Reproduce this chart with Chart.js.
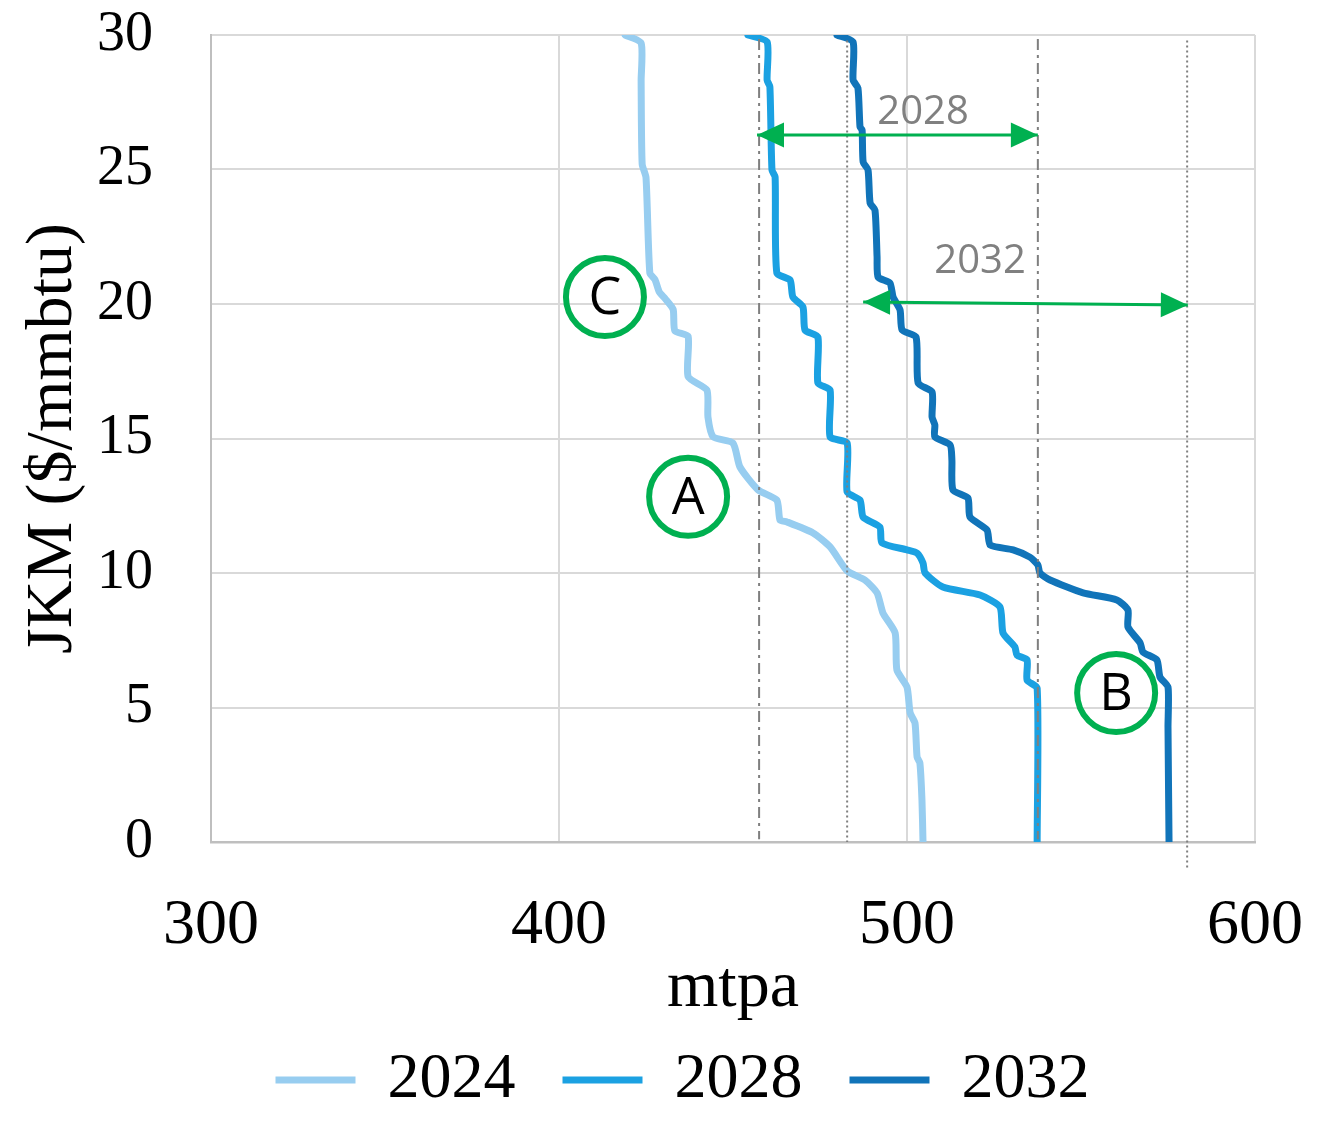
<!DOCTYPE html>
<html><head><meta charset="utf-8">
<script src="https://cdn.jsdelivr.net/npm/chart.js@4/dist/chart.umd.min.js"></script>
<style>html,body{margin:0;padding:0;background:#fff;overflow:hidden}#wrap{width:1321px;height:1128px;position:relative}</style>
</head><body><div id="wrap"><canvas id="c"></canvas></div>
<script>
// ---- data (mtpa, JKM $/mmbtu) ----
const seriesNames = ['2024', '2028', '2032'];
const curve2024 = [[419.0,30.0],[423.6,29.7],[423.6,28.3],[423.9,25.2],[425.0,24.7],[426.1,21.15],[427.6,20.9],[428.8,20.45],[430.5,20.2],[432.8,19.8],[433.3,19.0],[437.1,18.8],[437.1,17.3],[442.5,16.8],[442.8,15.8],[444.3,15.06],[450.0,14.83],[452.0,13.94],[457.2,13.09],[462.6,12.71],[463.5,11.97],[465.5,11.9],[473.0,11.49],[477.9,10.97],[482.8,10.08],[487.9,9.74],[491.4,9.26],[493.1,8.51],[496.6,7.77],[497.1,6.39],[500.0,5.76],[500.9,4.80],[502.3,4.42],[502.9,3.16],[503.7,2.94],[504.3,1.56],[504.6,0]];
const curve2028 = [[454.3,30.0],[459.8,29.74],[459.8,28.33],[460.6,28.07],[461.2,24.98],[462.1,24.72],[462.6,21.15],[466.4,20.89],[467.2,20.26],[470.1,19.89],[470.7,19.03],[474.4,18.77],[474.4,17.06],[477.9,16.80],[477.9,15.06],[482.8,14.83],[482.8,13.01],[486.5,12.71],[487.4,12.08],[492.2,11.71],[492.8,11.12],[500.0,10.86],[502.9,10.74],[504.6,10.37],[505.2,10.0],[510.3,9.48],[521.0,9.18],[526.7,8.74],[527.6,7.77],[531.0,7.25],[531.6,6.95],[534.5,6.77],[534.5,6.02],[537.4,5.72],[537.4,0]];
const curve2032 = [[479.9,30],[484.5,29.74],[484.5,28.33],[485.9,28.03],[486.5,26.58],[487.1,26.47],[487.4,25.28],[488.8,24.98],[489.4,23.75],[490.8,23.49],[491.4,21.75],[491.7,21.0],[495.1,20.78],[496.0,20.26],[498.0,19.78],[498.6,19.03],[502.6,18.77],[503.2,17.06],[507.2,16.73],[507.2,15.80],[508.0,15.50],[508.0,15.06],[512.4,14.76],[512.9,14.20],[513.2,13.09],[517.5,12.79],[518.1,12.08],[523.0,11.60],[523.9,11.04],[530.5,10.86],[535.3,10.59],[537.6,10.30],[538.2,10.0],[541.1,9.74],[550.6,9.26],[560.3,9.0],[563.5,8.62],[563.5,7.99],[567.0,7.40],[567.8,7.06],[571.8,6.77],[572.7,6.13],[575.0,5.76],[575.0,4.28],[575.3,0]];
const xTickValues = [300, 400, 500, 600];
const yTickValues = [0, 5, 10, 15, 20, 25, 30];

// ---- annotations (data units) ----
const refDashDot = [457.5, 537.6];
const refDotted = [482.8, 580.5];
const refDottedLow = [0, -0.97];
const arrowLabels = ['2028', '2032'];
const arrowFrom = [[456.9, 26.28], [487.4, 20.07]];
const arrowTo = [[537.6, 26.28], [580.7, 19.96]];
const arrowTextPos = [[504.6, 27.1], [521.0, 21.56]];
const markerLetters = ['C', 'A', 'B'];
const markerPos = [[413.2, 20.26], [437.1, 12.83], [560.1, 5.54]];

const colors = ['#97CDF0', '#1BA1E2', '#1174B9'];
const GREEN = '#00B050';
const SERIF = "'Liberation Serif', 'Times New Roman', serif";
const SANS = "'Open Sans', 'Noto Sans', sans-serif";

const toPts = arr => arr.map(p => ({x: p[0], y: p[1]}));
const curves = [curve2024, curve2028, curve2032];

const datasets = curves.map((c, i) => ({
  label: seriesNames[i], data: toPts(c), showLine: true, borderColor: colors[i], backgroundColor: colors[i],
  borderWidth: 7, pointRadius: 0, pointHoverRadius: 0, borderJoinStyle: 'round', borderCapStyle: 'round',
  tension: 0.2, order: 5
}));
refDashDot.forEach(x => datasets.push({label: '_ref', data: [{x, y: 29.85}, {x, y: 0.1}], showLine: true,
  borderColor: '#7F7F7F', borderWidth: 2, borderDash: [11, 5, 3, 5], pointRadius: 0, order: 1, clip: false}));
refDotted.forEach((x, i) => datasets.push({label: '_ref', data: [{x, y: 29.8}, {x, y: refDottedLow[i]}], showLine: true,
  borderColor: '#7F7F7F', borderWidth: 2, borderDash: [2, 3], pointRadius: 0, order: 1, clip: false}));
arrowFrom.forEach((f, i) => datasets.push({label: '_arrow', data: [{x: f[0], y: f[1]}, {x: arrowTo[i][0], y: arrowTo[i][1]}],
  showLine: true, borderColor: GREEN, borderWidth: 3, pointRadius: 0, order: 0, clip: false}));
datasets.push({label: '_marker', data: toPts(markerPos), showLine: false, pointRadius: 39, pointHoverRadius: 39,
  pointBorderWidth: 6, pointBorderColor: GREEN, pointBackgroundColor: 'rgba(0,0,0,0)', order: -1, clip: false});

const annotPlugin = {
  id: 'annot',
  afterDatasetsDraw(chart) {
    const {ctx, scales: {x, y}} = chart;
    ctx.save();
    arrowFrom.forEach((f, i) => {
      const t = arrowTo[i];
      [[f, t], [t, f]].forEach(([tip, other]) => {
        const tx = x.getPixelForValue(tip[0]), ty = y.getPixelForValue(tip[1]);
        const ox = x.getPixelForValue(other[0]), oy = y.getPixelForValue(other[1]);
        const a = Math.atan2(oy - ty, ox - tx);
        const L = 27, H = 12.5;
        ctx.beginPath();
        ctx.moveTo(tx, ty);
        ctx.lineTo(tx + L * Math.cos(a) - H * Math.sin(a), ty + L * Math.sin(a) + H * Math.cos(a));
        ctx.lineTo(tx + L * Math.cos(a) + H * Math.sin(a), ty + L * Math.sin(a) - H * Math.cos(a));
        ctx.closePath();
        ctx.fillStyle = GREEN;
        ctx.fill();
      });
      ctx.font = "40px " + SANS;
      ctx.fillStyle = '#808080';
      ctx.textAlign = 'center';
      ctx.textBaseline = 'middle';
      ctx.fillText(arrowLabels[i], x.getPixelForValue(arrowTextPos[i][0]), y.getPixelForValue(arrowTextPos[i][1]));
    });
    ctx.font = "52px " + SANS;
    ctx.fillStyle = '#000';
    ctx.textAlign = 'center';
    ctx.textBaseline = 'middle';
    markerPos.forEach((p, i) => {
      ctx.fillText(markerLetters[i], x.getPixelForValue(p[0]), y.getPixelForValue(p[1]) + 2);
    });
    ctx.restore();
  }
};

const legendShift = {
  id: 'legendShift',
  afterLayout(chart) { if (chart.legend) { chart.legend.left += 110; } }
};

new Chart(document.getElementById('c'), {
  type: 'scatter',
  data: {datasets},
  plugins: [annotPlugin, legendShift],
  options: {
    responsive: true, maintainAspectRatio: false, animation: false, devicePixelRatio: 1,
    layout: {autoPadding: false, padding: {top: 35, right: 66, left: 0, bottom: 6}},
    plugins: {
      tooltip: {enabled: false},
      legend: {
        position: 'bottom',
        labels: {
          filter: item => item.datasetIndex < 3,
          usePointStyle: true, pointStyle: 'line', pointStyleWidth: 80, boxHeight: 20,
          padding: 47, color: '#000', font: {family: SERIF, size: 64}
        }
      }
    },
    scales: {
      x: {
        type: 'linear', min: 300, max: 600,
        afterBuildTicks: s => { s.ticks = xTickValues.map(v => ({value: v})); },
        afterFit: s => { s.height = 159; },
        ticks: {padding: 0, color: '#000', font: {family: SERIF, size: 64}},
        grid: {color: '#D9D9D9', lineWidth: 2, drawTicks: true, tickLength: 46, tickColor: 'rgba(0,0,0,0)'},
        border: {color: '#BFBFBF', width: 2.5},
        title: {display: true, text: 'mtpa', color: '#000', font: {family: SERIF, size: 66}, padding: {top: 0, bottom: -27}}
      },
      y: {
        type: 'linear', min: 0, max: 30,
        afterBuildTicks: s => { s.ticks = yTickValues.map(v => ({value: v})); },
        afterFit: s => { s.width = 211; },
        ticks: {padding: 0, color: '#000', font: {family: SERIF, size: 56}},
        grid: {color: '#D9D9D9', lineWidth: 2, drawTicks: true, tickLength: 58, tickColor: 'rgba(0,0,0,0)'},
        border: {color: '#BFBFBF', width: 2},
        title: {display: true, text: 'JKM ($/mmbtu)', color: '#000', font: {family: SERIF, size: 66}, padding: {top: 14, bottom: 0}}
      }
    }
  }
});
</script>
</body></html>
